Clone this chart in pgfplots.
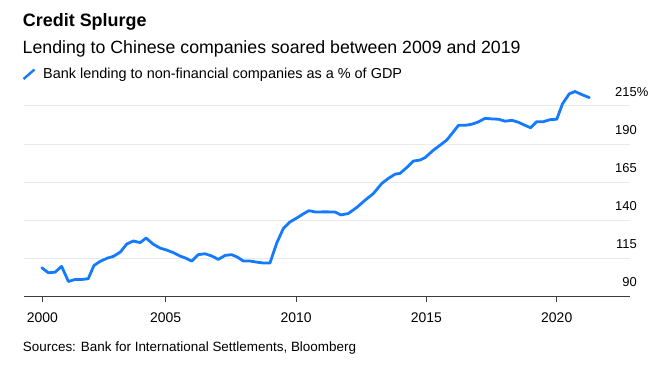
\documentclass[border=0pt]{standalone}
\usepackage{pgfplots}
\pgfplotsset{compat=1.18}
\usepackage{fontspec}
\setmainfont{Liberation Sans}
\definecolor{lineblue}{RGB}{20,122,255}
\definecolor{gridgray}{RGB}{234,234,234}
\definecolor{axisgray}{RGB}{60,60,60}
\begin{document}
\begin{tikzpicture}[x=1bp,y=1bp]
\useasboundingbox (0,0) rectangle (660,377);
% titles
\node[anchor=base west, inner sep=0, font=\fontsize{18}{21}\selectfont\bfseries] at (22.8,{377-26.5}) {Credit Splurge};
\node[anchor=base west, inner sep=0, font=\fontsize{17.8}{20}\selectfont] at (22.5,{377-53.5}) {Lending to Chinese companies soared between 2009 and 2019};
\draw[lineblue, line width=2.4bp] (23.5,{377-79}) -- (34.5,{377-69.5});
\node[anchor=base west, inner sep=0, font=\fontsize{14.5}{16}\selectfont] at (43,{377-78}) {Bank lending to non-financial companies as a \% of GDP};
\node[anchor=base west, inner sep=0, font=\fontsize{13.5}{16}\selectfont] at (22.7,{377-351.5}) {Sources: Bank for International Settlements, Bloomberg};
\begin{axis}[
  at={(24bp,80.8bp)}, anchor=south west,
  scale only axis, width=606bp, height=210bp,
  xmin=1999.567, xmax=2022.81,
  ymin=90, ymax=228,
  clip=false,
  axis line style={draw=none},
  xtick={2000.27,2005,2010,2015,2020},
  xticklabels={2000,2005,2010,2015,2020},
  ytick={90,115,140,165,190,215},
  yticklabels={90,115,140,165,190,215\rlap{\%}},
  ymajorgrids, grid style={gridgray, line width=1bp},
  yticklabel pos=right,
  ytick style={draw=none},
  xtick style={axisgray, line width=1bp},
  tick align=outside, major tick length=5.5bp,
  xtick pos=bottom,
  tick label style={font=\fontsize{13}{15}\selectfont},
  yticklabel style={anchor=base east, xshift=1.5bp, yshift=9.4bp, inner sep=0pt},
  xticklabel style={font=\fontsize{14}{16}\selectfont, anchor=base, yshift=-21bp, inner sep=0pt},
  /pgf/number format/assume math mode=true,
]
\draw[axisgray, line width=1.2bp] (axis cs:1999.567,90) -- (axis cs:2022.81,90);
\addplot[lineblue, line width=2.8bp, line join=round, line cap=round, no marks] coordinates {
(2000.25,108.7) (2000.50,105.4) (2000.76,105.8) (2001.01,109.6) (2001.27,99.7)
(2001.53,101.0) (2001.78,101.0) (2002.03,101.5) (2002.25,110.2) (2002.49,112.9)
(2002.76,115.0) (2003.00,116.2) (2003.26,119.0) (2003.51,124.3) (2003.76,126.3)
(2004.02,125.2) (2004.25,128.2) (2004.53,124.1) (2004.79,121.6) (2005.04,120.3)
(2005.27,118.8) (2005.55,116.4) (2005.77,115.0) (2006.00,113.1) (2006.25,117.3)
(2006.51,117.9) (2006.77,116.4) (2007.02,114.2) (2007.28,116.8) (2007.53,117.3)
(2007.75,115.7) (2007.98,113.1) (2008.24,113.1) (2008.49,112.4) (2008.75,111.8)
(2009.00,111.8) (2009.26,124.9) (2009.51,134.4) (2009.77,138.8) (2010.03,141.4)
(2010.26,143.9) (2010.49,146.2) (2010.76,145.3) (2011.00,145.4) (2011.24,145.4)
(2011.50,145.3) (2011.72,143.4) (2012.00,144.3) (2012.33,148.3) (2012.65,153.1)
(2012.97,157.5) (2013.29,164.1) (2013.54,167.4) (2013.80,170.2) (2013.99,170.7)
(2014.25,174.6) (2014.50,178.8) (2014.76,179.5) (2014.96,181.2) (2015.27,186.0)
(2015.53,189.3) (2015.78,192.6) (2015.97,196.6) (2016.23,202.3) (2016.49,202.3)
(2016.74,203.0) (2016.99,204.5) (2017.25,206.9) (2017.51,206.5) (2017.76,206.3)
(2018.02,205.0) (2018.28,205.6) (2018.53,204.3) (2018.78,202.3) (2019.00,200.7)
(2019.23,204.7) (2019.49,204.7) (2019.74,206.0) (2020.00,206.3) (2020.22,216.4)
(2020.48,223.0) (2020.70,224.5) (2020.96,222.5) (2021.25,220.5)
};
\end{axis}
\end{tikzpicture}
\end{document}
